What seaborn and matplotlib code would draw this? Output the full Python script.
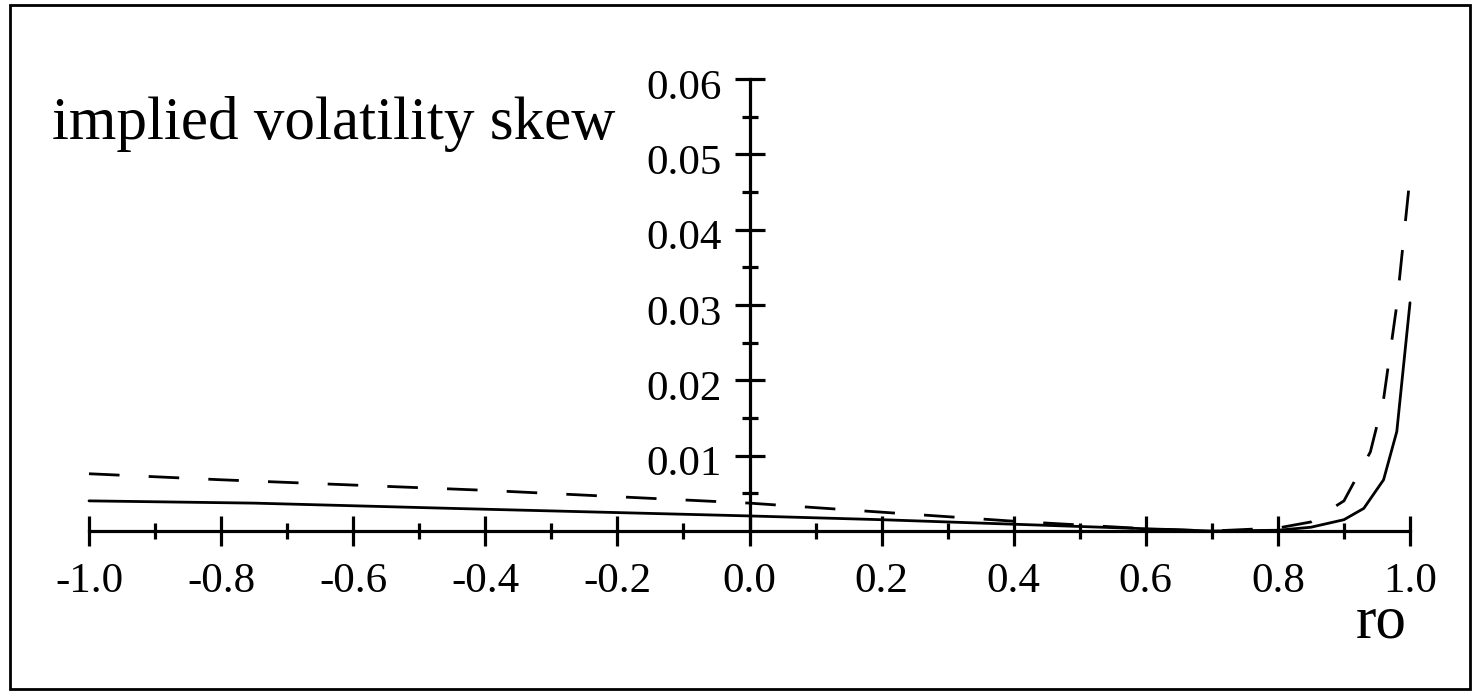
import numpy as np
import pandas as pd
import seaborn as sns
import matplotlib.pyplot as plt
import matplotlib.transforms as mtransforms
from matplotlib.patches import Rectangle
from matplotlib.ticker import MultipleLocator, FixedLocator

# Data
solid_ro = [-1.0, -0.75, -0.45, 0.0, 0.2, 0.4, 0.5, 0.6, 0.7, 0.8, 0.85, 0.9, 0.93, 0.96, 0.98, 1.0]
solid_skew = [0.0040, 0.0037, 0.0030, 0.0020, 0.0015, 0.0009, 0.0006, 0.0003, 0.0, 0.0001,
              0.0005, 0.0015, 0.0030, 0.0068, 0.0132, 0.0303]

dashed_ro = [-1.0, -0.8, -0.4, 0.0, 0.1, 0.2, 0.3, 0.4, 0.5, 0.6, 0.7, 0.8, 0.85, 0.9,
             0.94, 0.96, 0.98, 1.0]
dashed_skew = [0.0076, 0.0068, 0.0054, 0.0037, 0.0031, 0.0025, 0.0019, 0.0013, 0.0008,
               0.0003, 0.0, 0.0004, 0.0012, 0.0040, 0.0105, 0.0175, 0.0300, 0.0470]

x_ticks = [-1.0, -0.8, -0.6, -0.4, -0.2, 0.0, 0.2, 0.4, 0.6, 0.8, 1.0]
x_labels = ["-1.0", "-0.8", "-0.6", "-0.4", "-0.2", "0.0", "0.2", "0.4", "0.6", "0.8", "1.0"]
y_ticks = [0.01, 0.02, 0.03, 0.04, 0.05, 0.06]
y_labels = ["0.01", "0.02", "0.03", "0.04", "0.05", "0.06"]

sns.set_theme(style="white")
plt.rcParams["font.family"] = ["Liberation Serif", "DejaVu Serif"]
plt.rcParams["axes.unicode_minus"] = False

fig = plt.figure(figsize=(14.74, 6.93), dpi=100)
ax = fig.add_axes([89 / 1474, 1 - 531 / 693, (1410 - 89) / 1474, (531 - 79) / 693])

solid = pd.DataFrame({"ro": solid_ro, "skew": solid_skew})
dashed = pd.DataFrame({"ro": dashed_ro, "skew": dashed_skew})

sns.lineplot(data=solid, x="ro", y="skew", ax=ax, color="black", lw=2.0, clip_on=False)
sns.lineplot(data=dashed, x="ro", y="skew", ax=ax, color="black", lw=2.0,
             linestyle=(0, (11, 10.5)), clip_on=False)

ax.set_xlim(-1, 1)
ax.set_ylim(0, 0.06)

# axes through the origin, Maple style
ax.spines["left"].set_position(("data", 0))
ax.spines["bottom"].set_position(("data", 0))
ax.spines["top"].set_visible(False)
ax.spines["right"].set_visible(False)
for s in ["left", "bottom"]:
    ax.spines[s].set_linewidth(2.3)
    ax.spines[s].set_color("black")

ax.xaxis.set_major_locator(FixedLocator(x_ticks))
ax.set_xticklabels(x_labels)
ax.xaxis.set_minor_locator(MultipleLocator(0.1))
ax.yaxis.set_major_locator(FixedLocator(y_ticks))
ax.set_yticklabels(y_labels)
ax.yaxis.set_minor_locator(FixedLocator([0.005, 0.015, 0.025, 0.035, 0.045, 0.055]))

ax.tick_params(which="major", direction="inout", length=22, width=2.3, color="black",
               labelsize=31, labelcolor="black")
ax.tick_params(which="minor", direction="inout", length=12, width=2.3, color="black")
ax.tick_params(axis="x", which="major", pad=12)
ax.tick_params(axis="y", which="major", pad=9)
ax.tick_params(left=True, bottom=True, which="both")

# y labels sit a little below their ticks in the original
shift = mtransforms.ScaledTranslation(0, -5 / 100, fig.dpi_scale_trans)
for lab in ax.get_yticklabels():
    lab.set_transform(lab.get_transform() + shift)

ax.set_xlabel("")
ax.set_ylabel("")
ax.patch.set_alpha(0)

fig.text(52 / 1474, 1 - 139 / 693, "implied volatility skew", fontsize=44,
         ha="left", va="baseline", color="black")
fig.text(1356 / 1474, 1 - 638 / 693, "ro", fontsize=44, ha="left", va="baseline",
         color="black")

fig.patches.append(Rectangle((10 / 1474, 4 / 693), 1460 / 1474, 684 / 693,
                             transform=fig.transFigure, fill=False, lw=2,
                             edgecolor="black"))

fig.savefig("out.png", dpi=100)
